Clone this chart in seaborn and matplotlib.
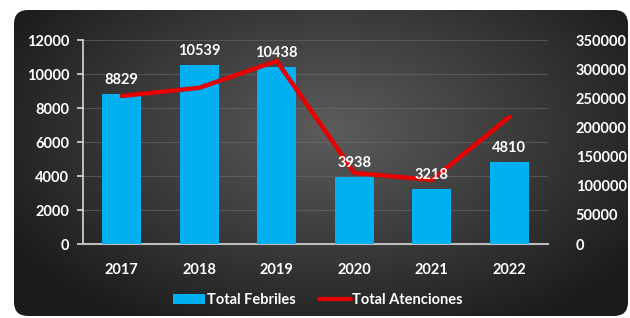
import numpy as np
import pandas as pd
import matplotlib
matplotlib.use("Agg")
import matplotlib.pyplot as plt
from matplotlib.patches import FancyBboxPatch, Patch
from matplotlib.lines import Line2D
import seaborn as sns

years = ["2017", "2018", "2019", "2020", "2021", "2022"]
febriles = [8829, 10539, 10438, 3938, 3218, 4810]
atenciones = [254000, 268000, 314000, 122000, 110000, 218000]
left_ticks = [0, 2000, 4000, 6000, 8000, 10000, 12000]
right_ticks = [0, 50000, 100000, 150000, 200000, 250000, 300000, 350000]

sns.set_theme(style="dark")
plt.rcParams['font.family'] = ['Lato', 'DejaVu Sans']

W, H = 630, 318
fig = plt.figure(figsize=(W / 100, H / 100), dpi=100)
fig.patch.set_facecolor("white")

# background panel with radial gradient
bg = fig.add_axes([0, 0, 1, 1])
bg.set_xlim(0, W)
bg.set_ylim(H, 0)
bg.axis("off")
yy, xx = np.mgrid[0:H, 0:W]
d = np.sqrt(((xx - 330) / 380.0) ** 2 + ((yy - 130) / 230.0) ** 2)
d = np.clip(d, 0, 1)
c_in = np.array([0x5c, 0x5c, 0x5c]) / 255.0
c_out = np.array([0x1a, 0x1a, 0x1a]) / 255.0
img = c_in[None, None, :] * (1 - d[..., None]) + c_out[None, None, :] * d[..., None]
im = bg.imshow(img, extent=(0, W, H, 0), aspect="auto", zorder=0)
panel = FancyBboxPatch((14, 10), 614, 306, boxstyle="round,pad=0,rounding_size=14",
                       transform=bg.transData, facecolor="none", edgecolor="none")
bg.add_patch(panel)
im.set_clip_path(panel)

# main axes
ax = fig.add_axes([83 / W, 1 - 244 / H, (548 - 83) / W, (244 - 40) / H])
ax.set_facecolor("none")
df = pd.DataFrame({"year": years, "febriles": febriles, "atenciones": atenciones})
sns.barplot(data=df, x="year", y="febriles", color="#00B0F0", saturation=1,
            width=0.5, ax=ax, linewidth=0, edgecolor="none", zorder=3)
if ax.get_legend() is not None:
    ax.get_legend().remove()
ax.set_ylim(0, 12000)
ax.set_xlim(-0.5, 5.5)
ax.set_yticks(left_ticks)
ax.set_yticklabels([str(t) for t in left_ticks])
ax.set_xlabel("")
ax.set_ylabel("")
ax.grid(axis="y", color="#6a6a6a", linewidth=0.8, alpha=0.6, zorder=0)
ax.grid(axis="x", visible=False)
for s in ["top", "right"]:
    ax.spines[s].set_visible(False)
ax.spines["left"].set_color("#d8d8d8")
ax.spines["left"].set_linewidth(1.2)
ax.spines["bottom"].set_color("#bdbdbd")
ax.spines["bottom"].set_linewidth(1.5)
ax.tick_params(axis="y", colors="white", length=4, width=1.2, color="#d8d8d8",
               labelsize=10.5, pad=6, left=True)
ax.tick_params(axis="x", colors="white", length=0, labelsize=10.5, pad=14)
for lbl in ax.get_xticklabels() + ax.get_yticklabels():
    lbl.set_fontweight("bold")
    lbl.set_color("white")

ax2 = ax.twinx()
sns.lineplot(x=np.arange(len(years)), y=atenciones, ax=ax2, color="#E80000",
             linewidth=3.2, legend=False, zorder=4)
ax2.set_ylim(0, 350000)
ax2.set_yticks(right_ticks)
ax2.set_yticklabels([str(t) for t in right_ticks])
ax2.grid(False)
for s in ["top", "right", "left", "bottom"]:
    ax2.spines[s].set_visible(False)
ax2.tick_params(axis="y", colors="white", length=0, labelsize=10.5, pad=20)
for lbl in ax2.get_yticklabels():
    lbl.set_fontweight("bold")
    lbl.set_color("white")

# data labels (drawn on top of the line)
for i, v in enumerate(febriles):
    ax2.annotate(str(v), xy=(i, v), xycoords=ax.transData, xytext=(0, 5),
                 textcoords="offset points", ha="center", va="bottom",
                 color="white", fontsize=10.5, fontweight="bold", zorder=6)

# legend
handles = [Patch(facecolor="#00B0F0", edgecolor="none", label="Total Febriles"),
           Line2D([0], [0], color="#E80000", linewidth=3, label="Total Atenciones")]
leg = fig.legend(handles=handles, loc="center", bbox_to_anchor=(318 / W, 1 - 300 / H),
                 ncol=2, frameon=False, fontsize=10.5, handlelength=2.2,
                 handletextpad=0.1, columnspacing=1.6)
for t in leg.get_texts():
    t.set_color("white")
    t.set_fontweight("bold")

fig.savefig("out.png", dpi=100)
